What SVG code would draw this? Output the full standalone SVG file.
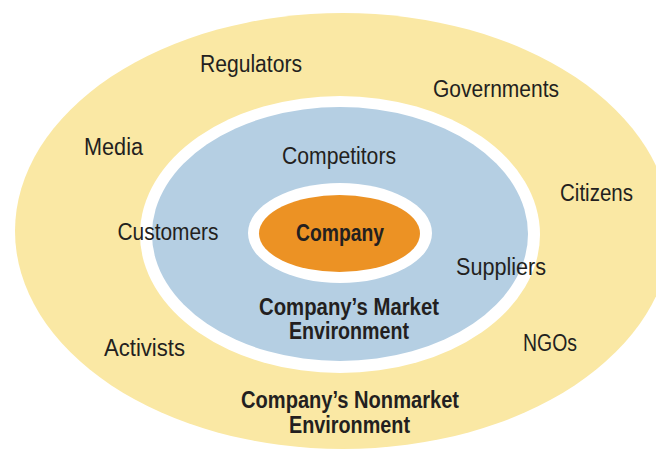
<svg xmlns="http://www.w3.org/2000/svg" width="656" height="449" viewBox="0 0 656 449">
<style>
text{font-family:"Liberation Sans Narrow","Liberation Sans",Arial,sans-serif;font-size:23px;fill:#231f20;text-anchor:middle}
.b{font-weight:bold}
</style>
<rect width="656" height="449" fill="#ffffff"/>
<g id="nonmarket">
<ellipse cx="343" cy="231" rx="328" ry="218" fill="#fae8a4"/>
</g>
<g id="market">
<ellipse cx="340" cy="234.5" rx="200" ry="138.5" fill="#ffffff"/>
<ellipse cx="340" cy="234" rx="188" ry="127" fill="#b5cfe3"/>
</g>
<g id="company">
<ellipse cx="340" cy="233" rx="92" ry="50" fill="#ffffff"/>
<ellipse cx="339.5" cy="233.5" rx="80.5" ry="38.5" fill="#ec9224"/>
<text class="b" x="340" y="241" textLength="88" lengthAdjust="spacingAndGlyphs">Company</text>
</g>
<g id="labels">
<text x="251" y="72" textLength="102" lengthAdjust="spacingAndGlyphs">Regulators</text>
<text x="496" y="97" textLength="126" lengthAdjust="spacingAndGlyphs">Governments</text>
<text x="113.5" y="155" textLength="59" lengthAdjust="spacingAndGlyphs">Media</text>
<text x="339" y="164" textLength="114" lengthAdjust="spacingAndGlyphs">Competitors</text>
<text x="596.5" y="201" textLength="73" lengthAdjust="spacingAndGlyphs">Citizens</text>
<text x="168" y="240" textLength="101" lengthAdjust="spacingAndGlyphs">Customers</text>
<text x="501" y="275" textLength="90" lengthAdjust="spacingAndGlyphs">Suppliers</text>
<text x="144.5" y="356" textLength="81" lengthAdjust="spacingAndGlyphs">Activists</text>
<text x="550" y="351" textLength="54" lengthAdjust="spacingAndGlyphs">NGOs</text>
<text class="b" x="349" y="315" textLength="180" lengthAdjust="spacingAndGlyphs">Company’s Market</text>
<text class="b" x="349" y="339" textLength="120" lengthAdjust="spacingAndGlyphs">Environment</text>
<text class="b" x="350" y="408" textLength="218" lengthAdjust="spacingAndGlyphs">Company’s Nonmarket</text>
<text class="b" x="349.5" y="433" textLength="121" lengthAdjust="spacingAndGlyphs">Environment</text>
</g>
<g id="connectors"></g>
</svg>
